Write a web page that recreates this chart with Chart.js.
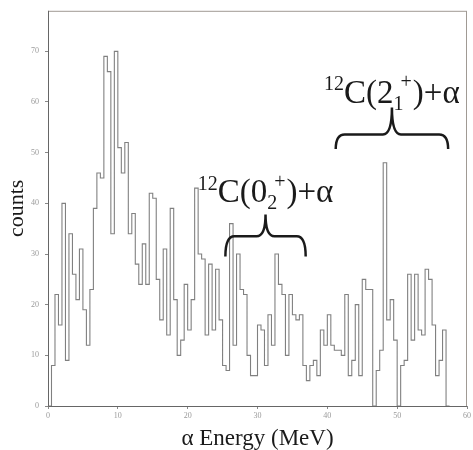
<!DOCTYPE html>
<html>
<head>
<meta charset="utf-8">
<script src="https://cdn.jsdelivr.net/npm/chart.js@4.4.1/dist/chart.umd.min.js"></script>
<style>
  html, body { margin: 0; padding: 0; background: #fff; }
  #wrap { width: 473px; height: 450px; }
</style>
</head>
<body>
<div id="wrap"><canvas id="myChart" width="473" height="450"></canvas></div>
<script>
// histogram bins: 0.5 MeV wide, first bin starts at 0 MeV
const binStart = 0;
const binWidth = 0.5;
const counts = [
   0,  0,  8, 22, 16, 40,  9, 34, 26, 21,
  31, 19, 12, 23, 39, 46, 45, 69, 66, 34,
  70, 51, 46, 52, 34, 38, 28, 24, 32, 24,
  42, 41, 25, 17, 31, 14, 39, 21, 10, 13,
  24, 15, 21, 43, 30, 29, 14, 28, 15, 27,
  17,  8,  7, 36, 12, 30, 23, 22, 10,  6,
   6, 16, 15,  8, 18, 12, 30, 24, 22, 10,
  22, 18, 17, 18,  8,  5,  8,  9,  6, 15,
  12, 18, 12, 11, 11, 10, 22,  6,  9, 20,
   6, 25, 23, 23,  0,  7, 11, 48, 17, 21,
  13,  0,  8,  9, 26, 13, 26, 15, 14, 27,
  25, 16,  6,  9, 15
];
const xTicks = [0, 10, 20, 30, 40, 50, 60];
const yTicks = [0, 10, 20, 30, 40, 50, 60, 70];

// state labels (text pieces) and where their braces sit, in data units
const label02 = [['sup', '12'], ['n', 'C('], ['n', '0'], ['subsup', '2', '+'], ['n', ')+α']];
const label21 = [['sup', '12'], ['n', 'C('], ['n', '2'], ['subsup', '1', '+'], ['n', ')+α']];
const braces = [
  { parts: label02, xFrom: 25.4, xTo: 36.9, yEnd: 29.5, yBar: 33.5, yTip: 37.8, yText: 40.2 },
  { parts: label21, xFrom: 41.2, xTo: 57.3, yEnd: 50.7, yBar: 53.6, yTip: 58.9, yText: 59.8 }
];

const serif = '"Liberation Serif", "Times New Roman", serif';

// bin edges -> stepped outline, closed back down to zero at the end
const points = counts.map((c, i) => ({ x: binStart + i * binWidth, y: c }));
points.push({ x: binStart + counts.length * binWidth, y: 0 });

function drawStateLabel(ctx, cx, baseY, parts, size) {
    const big = size + 'px ' + serif;
    const small = Math.round(size * 0.62) + 'px ' + serif;
    // measure first so we can centre it
    let total = 0;
    const widths = parts.map(p => {
        let w;
        if (p[0] === 'n') { ctx.font = big; w = ctx.measureText(p[1]).width; }
        else if (p[0] === 'subsup') {
            ctx.font = small;
            const subW = ctx.measureText(p[1]).width;
            w = Math.max(subW, subW * 0.7 + ctx.measureText(p[2]).width) + 1;
        } else { ctx.font = small; w = ctx.measureText(p[1]).width; }
        total += w;
        return w;
    });
    let x = cx - total / 2;
    ctx.textBaseline = 'alphabetic';
    ctx.textAlign = 'left';
    parts.forEach((p, i) => {
        if (p[0] === 'n') {
            ctx.font = big;
            ctx.fillText(p[1], x, baseY);
        } else if (p[0] === 'sup') {
            ctx.font = small;
            ctx.fillText(p[1], x, baseY - size * 0.38);
        } else {
            ctx.font = small;
            const subW = ctx.measureText(p[1]).width;
            ctx.fillText(p[1], x, baseY + size * 0.2);
            ctx.fillText(p[2], x + subW * 0.7, baseY - size * 0.44);
        }
        x += widths[i];
    });
}

function drawBrace(ctx, x0, x1, yEnd, yBar, yTip) {
    const xm = (x0 + x1) / 2;
    const r = 9;
    ctx.beginPath();
    ctx.moveTo(x0, yEnd);
    ctx.quadraticCurveTo(x0, yBar, x0 + r, yBar);
    ctx.lineTo(xm - r, yBar);
    ctx.quadraticCurveTo(xm, yBar, xm, yTip);
    ctx.quadraticCurveTo(xm, yBar, xm + r, yBar);
    ctx.lineTo(x1 - r, yBar);
    ctx.quadraticCurveTo(x1, yBar, x1, yEnd);
    ctx.stroke();
}

const extrasPlugin = {
    id: 'extras',
    afterDatasetsDraw(chart) {
        const ctx = chart.ctx;
        const area = chart.chartArea;
        const xs = chart.scales.x;
        const ys = chart.scales.y;
        ctx.save();
        // frame round the plot
        ctx.strokeStyle = '#a09a94';
        ctx.lineWidth = 1;
        ctx.strokeRect(area.left + 0.5, area.top + 0.5, area.right - area.left - 1, area.bottom - area.top);
        ctx.strokeStyle = '#666';
        ctx.beginPath();
        ctx.moveTo(area.left + 0.5, area.top);
        ctx.lineTo(area.left + 0.5, area.bottom + 0.5);
        ctx.lineTo(area.right, area.bottom + 0.5);
        ctx.stroke();

        // braces and labels
        ctx.strokeStyle = '#1a1a1a';
        ctx.lineWidth = 2.5;
        ctx.fillStyle = '#1a1a1a';
        braces.forEach(b => {
            drawBrace(ctx,
                xs.getPixelForValue(b.xFrom), xs.getPixelForValue(b.xTo),
                ys.getPixelForValue(b.yEnd), ys.getPixelForValue(b.yBar), ys.getPixelForValue(b.yTip));
            drawStateLabel(ctx, xs.getPixelForValue((b.xFrom + b.xTo) / 2), ys.getPixelForValue(b.yText), b.parts, 33);
        });
        ctx.restore();
    }
};

const ctx = document.getElementById('myChart').getContext('2d');
new Chart(ctx, {
    type: 'line',
    data: {
        datasets: [{
            data: points,
            stepped: 'after',
            borderColor: '#808080',
            borderWidth: 1.1,
            pointRadius: 0,
            fill: false
        }]
    },
    options: {
        responsive: false,
        animation: false,
        layout: { padding: { top: 8, right: 4, left: 0, bottom: 0 } },
        plugins: { legend: { display: false }, tooltip: { enabled: false } },
        scales: {
            x: {
                type: 'linear',
                min: 0,
                max: 60,
                afterFit: s => { s.height = 44; },
                afterBuildTicks: s => { s.ticks = xTicks.map(v => ({ value: v })); },
                grid: { drawOnChartArea: false, drawTicks: true, tickLength: 3, color: '#888' },
                border: { display: false },
                ticks: { color: '#9a9a9a', font: { family: serif, size: 8 }, padding: 2, maxRotation: 0 },
                title: {
                    display: true,
                    text: 'α Energy (MeV)',
                    color: '#1a1a1a',
                    font: { family: serif, size: 23, lineHeight: 1 },
                    padding: { top: 0, bottom: 0 }
                }
            },
            y: {
                min: 0,
                max: 78,
                afterFit: s => { s.width = 48; },
                afterBuildTicks: s => { s.ticks = yTicks.map(v => ({ value: v })); },
                grid: { drawOnChartArea: false, drawTicks: true, tickLength: 3, color: '#888' },
                border: { display: false },
                ticks: { color: '#9a9a9a', font: { family: serif, size: 8 }, padding: 6 },
                title: {
                    display: true,
                    text: 'counts',
                    color: '#1a1a1a',
                    font: { family: serif, size: 22, lineHeight: 1 },
                    padding: { top: 6, bottom: 0 }
                }
            }
        }
    },
    plugins: [extrasPlugin]
});
</script>
</body>
</html>
